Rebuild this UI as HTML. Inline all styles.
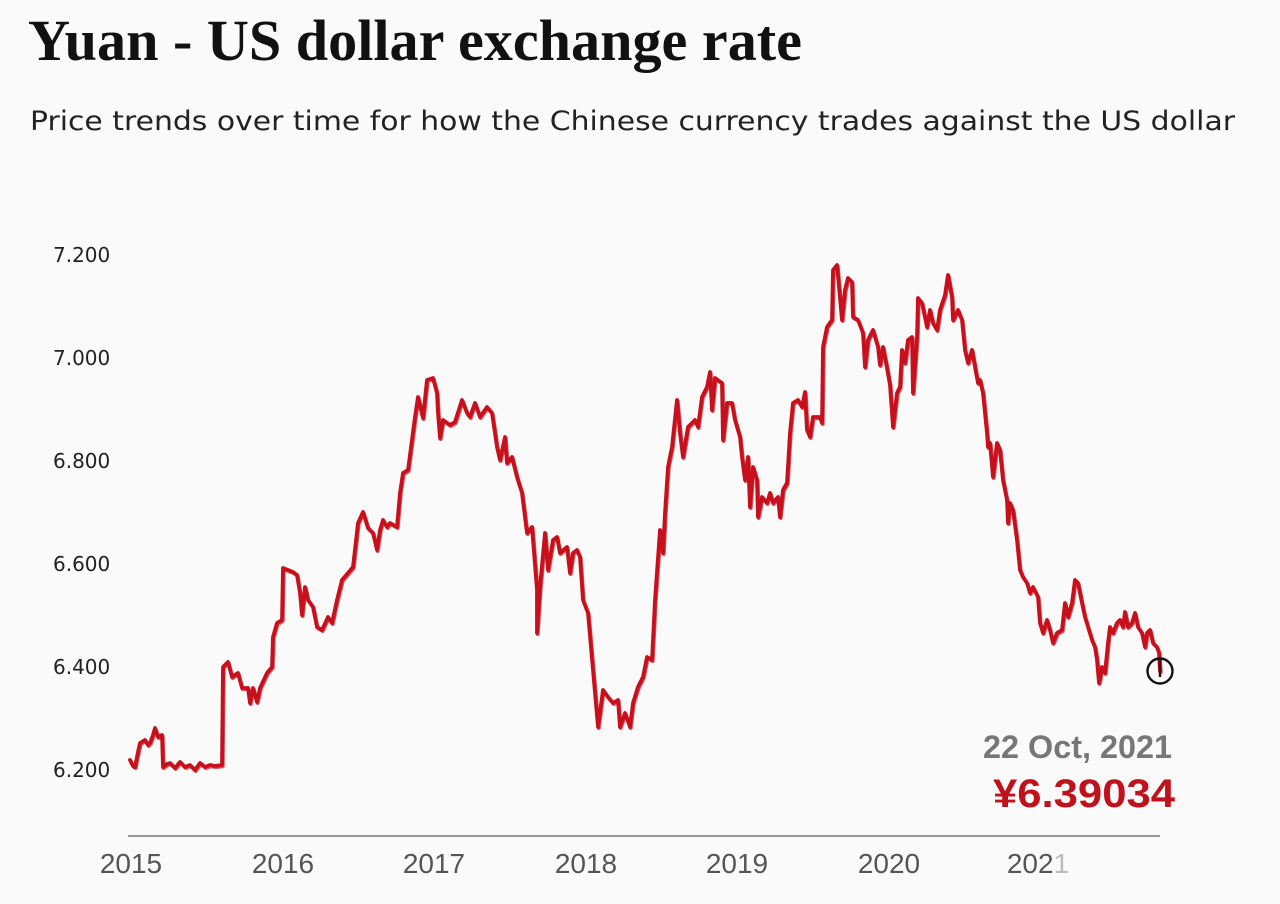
<!DOCTYPE html>
<html>
<head>
<meta charset="utf-8">
<style>
  html, body { margin: 0; padding: 0; background: #fafafa; }
  body { width: 1280px; height: 904px; overflow: hidden; }
  svg { display: block; }
</style>
</head>
<body>
<svg width="1280" height="904" viewBox="0 0 1280 904" xmlns="http://www.w3.org/2000/svg">
  <rect x="0" y="0" width="1280" height="904" fill="#fafafa"/>

  <!-- Title -->
  <text x="28" y="60" font-family="'Liberation Serif', serif" font-weight="bold" font-size="58" fill="#111" textLength="774" lengthAdjust="spacingAndGlyphs">Yuan - US dollar exchange rate</text>
  <!-- Subtitle -->
  <text x="30" y="130" font-family="'DejaVu Sans', sans-serif" font-size="27" fill="#222" textLength="1205" lengthAdjust="spacingAndGlyphs">Price trends over time for how the Chinese currency trades against the US dollar</text>

  <!-- Y axis labels -->
  <g font-family="'DejaVu Sans', sans-serif" font-size="20" fill="#222">
    <text x="53" y="262">7.200</text>
    <text x="53" y="365">7.000</text>
    <text x="53" y="468">6.800</text>
    <text x="53" y="571">6.600</text>
    <text x="53" y="674">6.400</text>
    <text x="53" y="777">6.200</text>
  </g>

  <!-- Baseline -->
  <line x1="128" y1="836" x2="1160" y2="836" stroke="#9a9a9a" stroke-width="2"/>

  <!-- X axis labels -->
  <g font-family="'Liberation Sans', sans-serif" font-size="28" fill="#555" text-anchor="middle">
    <text x="131" y="873">2015</text>
    <text x="283" y="873">2016</text>
    <text x="434" y="873">2017</text>
    <text x="586" y="873">2018</text>
    <text x="737" y="873">2019</text>
    <text x="889" y="873">2020</text>
    <text x="1038" y="873">202<tspan fill="#bbb">1</tspan></text>
  </g>

  <!-- Series -->
  <g fill="none" stroke-linejoin="round" stroke-linecap="round">
  <polyline id="s" stroke="#c8101c" stroke-width="3.8" points="
130,760 133,766 135,767 138,752 140,743 145,740 148,745 150,743 153,735 155,728 158,737 162,735 163,767 167,764 170,763 175,768 180,762 185,767 190,765 195,770 200,763 205,767 210,765 215,766 222,765
223,667 228,662 232,677 238,673 242,688 248,688 250,703 253,688 257,702 260,688 267,673 272,667 273,637 277,623 282,620
283,568 293,572 297,575 300,593 302,615 305,587 308,600 313,607 317,627 322,630 328,617 332,623 337,600 342,580 348,573 353,567
358,523 363,512 368,528 373,533 377,550 380,530 383,520 387,527 390,523 397,527 400,493 403,473 408,470 415,417 418,397 423,418
427,380 433,378 437,393 438,413 440,438 443,420 450,425 455,422 462,400 467,413 470,417 475,403 480,417 487,407 492,413
497,447 500,460 505,437 507,463 512,457 517,477 522,493 525,517 527,533 532,527 537,590 537,633 540,587 545,533 548,570
553,540 557,537 560,553 567,547 570,573 573,553 577,550 580,557 583,600 588,613 593,670 598,727 603,690 608,697 613,703
618,700 620,727 625,713 630,727 633,703 638,687 643,677 647,657 652,660 655,600 660,530 663,553 665,513 668,467 672,447
677,400 680,433 683,457 688,427 695,420 698,427 702,397 707,387 710,372 712,410 715,378 722,383 723,440 727,403 732,403
735,420 740,437 742,457 745,480 748,457 750,507 753,467 757,480 758,517 762,497 767,503 770,493 773,503 778,497 780,517
783,490 787,483 790,433 793,403 798,400 802,407 805,392 807,430 810,437 813,417 820,417 822,423 823,347 827,327 832,320
833,270 837,265 842,320 845,290 848,278 852,282 853,317 858,320 863,333 865,367 868,340 873,330 878,347 880,365 883,347
887,368 890,385 893,427 897,393 900,387 902,350 905,363 908,340 912,337 913,393 917,337 918,298 922,303 927,327 930,310
933,323 937,330 940,310 945,295 948,275 952,297 953,320 958,310 962,320 965,350 968,363 972,350 975,367 978,383 980,380
983,393 987,433 988,447 990,443 993,477 997,443 1000,450 1003,480 1007,500 1008,523 1010,503 1013,510 1017,540 1020,570
1023,577 1027,583 1030,593 1033,587 1038,597 1040,623 1043,633 1047,620 1050,630 1053,643 1057,633 1062,630 1065,603
1068,617 1072,603 1075,580 1078,583 1082,603 1085,617 1088,627 1092,640 1095,647 1097,660 1099,683 1102,667 1105,673
1108,643 1110,627 1113,633 1117,623 1120,620 1123,627 1125,612 1128,627 1132,623 1135,613 1138,627 1142,633 1145,647
1147,633 1150,630 1153,643 1157,647 1159,653 1160,671"/>
  <use href="#s" transform="translate(0.8,1.2)" stroke="#a8101a" stroke-width="1.6" opacity="0.7"/>
  </g>

  <!-- End marker -->
  <line x1="1160" y1="658" x2="1160" y2="677" stroke="#3a0a0a" stroke-width="2.5"/>
  <circle cx="1160" cy="671" r="12.5" fill="none" stroke="#111" stroke-width="2.4"/>

  <!-- Annotation -->
  <text x="983" y="758" font-family="'Liberation Sans', sans-serif" font-weight="bold" font-size="32" fill="#777" textLength="189" lengthAdjust="spacingAndGlyphs">22 Oct, 2021</text>
  <text x="993" y="807" font-family="'Liberation Sans', sans-serif" font-weight="bold" font-size="40" fill="#c0121c" textLength="182" lengthAdjust="spacingAndGlyphs">¥6.39034</text>
</svg>
</body>
</html>
